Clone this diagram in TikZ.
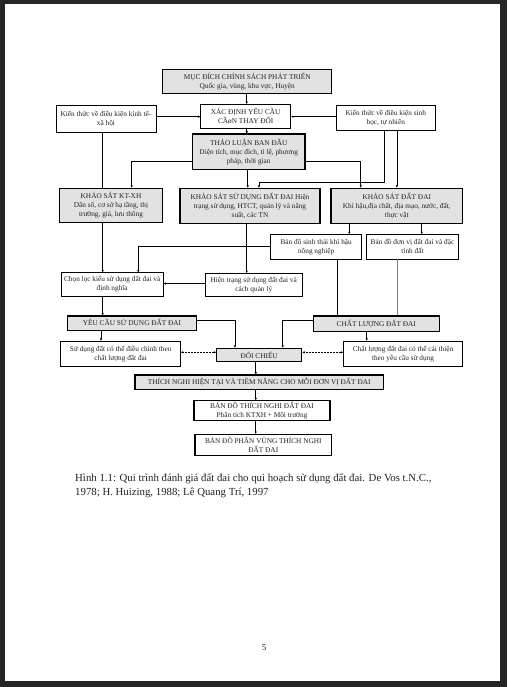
\documentclass[tikz,border=0pt]{standalone}
\usepackage{fontspec}
\setmainfont{Liberation Serif}
\usetikzlibrary{arrows.meta}
\definecolor{framegray}{HTML}{262626}
\definecolor{boxgray}{HTML}{E2E2E2}
\definecolor{inkgray}{HTML}{222222}
\begin{document}
\begin{tikzpicture}[x=1pt,y=-1pt,
  boxfont/.style={font=\fontsize{7.3}{9}\selectfont, text=inkgray},
  gbox/.style={draw=black, line width=1.3pt, fill=boxgray, align=center, inner sep=0pt, boxfont},
  wbox/.style={draw=black, line width=0.6pt, fill=white, align=center, inner sep=0pt, boxfont},
  mbox/.style={draw=black, line width=1.1pt, fill=white, align=center, inner sep=0pt, boxfont},
  arr/.style={-{Triangle[length=2.2pt,width=2pt]}, line width=0.5pt, draw=black},
  link/.style={line width=0.5pt, draw=black},
  dotarr/.style={{Triangle[length=2.2pt,width=2pt]}-{Triangle[length=2.2pt,width=2pt]}, line width=0.5pt, densely dotted},
  sz/.style 2 args={minimum width=#1pt, minimum height=#2pt}
]
\useasboundingbox (0,0) rectangle (507,687);
\fill[framegray] (0,0) rectangle (507,687);
\fill[white] (5,4) rectangle (500,681);

% boxes
\node[gbox, sz={169}{24}] (muc) at (247.2,81.3) {MỤC ĐÍCH CHÍNH SÁCH PHÁT TRIỂN\\Quốc gia, vùng, khu vực, Huyện};
\node[wbox, line width=0.8pt, sz={90}{24}] (xac) at (245.7,116.3) {XÁC ĐỊNH YÊU CẦU\\CẦøN THAY ĐỔI};
\node[wbox, sz={100}{27}] (kt) at (106,119.2) {Kiến thức về điều kiện kinh tế-\\xã hội};
\node[wbox, sz={99.7}{24.3}] (sh) at (385.8,117.9) {Kiến thức về điều kiện sinh\\học, tự nhiên};
\node[gbox, sz={112.7}{35.3}] (thao) at (248.7,151.7) {THẢO LUẬN BAN ĐẦU\\Diện tích, mục đích, tỉ lệ, phương\\pháp, thời gian};
\node[gbox, sz={103.4}{34.4}] (ksxh) at (111,205.5) {KHẢO SÁT KT-XH\\Dân số, cơ sở hạ tầng, thị\\trường, giá, lưu thông};
\node[gbox, sz={140}{35}] (kssd) at (250,205.8) {KHẢO SÁT SỬ DỤNG ĐẤT ĐAI Hiện\\trạng sử dụng, HTCT, quản lý và năng\\suất, các TN};
\node[gbox, sz={131.7}{35}] (ksdd) at (396.8,205.8) {KHẢO SÁT ĐẤT ĐAI\\Khí hậu,địa chất, địa mạo, nước, đất,\\thực vật};
\node[wbox, sz={91}{24.7}] (bdst) at (316.2,246.7) {Bản đồ sinh thái khí hậu\\nông nghiệp};
\node[wbox, sz={91.6}{24.7}] (bddv) at (412.5,246.7) {Bản đồ đơn vị đất đai và đặc\\tính đất};
\node[wbox, sz={102.3}{23.3}] (chon) at (112.2,284.3) {Chọn lọc kiểu sử dụng đất đai và\\định nghĩa};
\node[wbox, sz={97.3}{23.4}] (hien) at (253.7,285) {Hiện trạng sử dụng đất đai và\\cách quản lý};
\node[gbox, sz={129.4}{14.7}] (yeu) at (132,323.3) {YÊU CẦU SỬ DỤNG ĐẤT ĐAI};
\node[gbox, sz={126}{15.7}] (chat) at (376.3,323.8) {CHẤT LƯỢNG ĐẤT ĐAI};
\node[wbox, sz={120}{25.7}] (sud) at (120.7,353.8) {Sử dụng đất có thể điều chỉnh theo\\chất lượng đất đai};
\node[gbox, sz={85}{13.4}] (doi) at (259.2,355) {ĐỐI CHIẾU};
\node[wbox, sz={119.4}{25.7}] (clb) at (403,353.8) {Chất lượng đất đai có thể cải thiện\\theo yêu cầu sử dụng};
\node[gbox, sz={248.3}{14.3}] (thich) at (259.2,382.2) {THÍCH NGHI HIỆN TẠI VÀ TIỀM NĂNG CHO MỖI ĐƠN VỊ ĐẤT ĐAI};
\node[mbox, sz={136}{20}] (bdtn) at (262,410.7) {BẢN ĐỒ THÍCH NGHI ĐẤT ĐAI\\Phân tích KTXH + Môi trường};
\node[mbox, sz={136.7}{20.7}] (bdpv) at (263.3,444.7) {BẢN ĐỒ PHÂN VÙNG THÍCH NGHI\\ĐẤT ĐAI};

% connectors
\draw[arr] ([xshift=-0.5pt]muc.south) -- ([xshift=-0.5pt]muc.south |- xac.north);
\draw[arr] ([yshift=2.5pt]kt.east) -- ([yshift=2.5pt]kt.east -| xac.west);
\draw[arr] ([yshift=1.2pt]sh.west) -- ([yshift=1.2pt]sh.west -| xac.east);
\draw[arr] ([xshift=1pt]xac.south) -- ([xshift=1pt]xac.south |- thao.north);
\draw[arr] ([yshift=-10pt]thao.west) -| ([xshift=20.7pt]ksxh.north);
\draw[arr] ([xshift=-1pt]thao.south) -- ([xshift=-1pt]thao.south |- kssd.north);
\draw[arr] ([yshift=-10pt]thao.east) -| ([xshift=-36.1pt]ksdd.north);
\draw[arr] ([xshift=-1.5pt]sh.south) -- ++(0,52.3) -| ([xshift=9pt]kssd.north);
\draw[arr] ([xshift=11pt]sh.south) -- ([xshift=11pt]sh.south |- ksdd.north);
\draw[link] ([xshift=-3.3pt]kt.south) -- ([xshift=-3.3pt]kt.south |- ksxh.north);
\draw[arr] ([xshift=-8.3pt]ksxh.south) -- ([xshift=-8.3pt]ksxh.south |- chon.north);
\draw[arr] ([xshift=-3.3pt]kssd.south) -- ([xshift=-3.3pt]kssd.south |- hien.north);
\draw[arr] ([xshift=-47.5pt]ksdd.south) -- ([xshift=-47.5pt]ksdd.south |- bdst.north);
\draw[arr] ([xshift=24.9pt]ksdd.south) -- ([xshift=24.9pt]ksdd.south |- bddv.north);
\draw[arr] (bdst.west) -| ([xshift=26.1pt]chon.north);
\draw[arr] ([yshift=1.5pt]hien.west) -- ([yshift=1.5pt]hien.west -| chon.east);
\draw[arr] ([xshift=-9.5pt]chon.south) -- ([xshift=-9.5pt]chon.south |- yeu.north);
\draw[link] ([xshift=21.1pt]bdst.south) -- ([xshift=21.1pt]bdst.south |- chat.north);
\draw[link, draw=gray] ([xshift=-15pt]bddv.south) -- ([xshift=-15pt]bddv.south |- chat.north);
\draw[arr] ([yshift=3.3pt]yeu.east) -| ([xshift=-24.2pt]doi.north);
\draw[arr] ([yshift=3.8pt]chat.west) -| ([xshift=23.5pt]doi.north);
\draw[arr] ([xshift=-31pt]yeu.south) -- ([xshift=-31pt]yeu.south |- sud.north);
\draw[arr] ([xshift=-9.6pt]chat.south) -- ([xshift=-9.6pt]chat.south |- clb.north);
\draw[dotarr] ([yshift=2.7pt]doi.west) -- ([yshift=2.7pt]doi.west -| sud.east);
\draw[dotarr] ([yshift=2.7pt]doi.east) -- ([yshift=2.7pt]doi.east -| clb.west);
\draw[arr] ([xshift=-3.5pt]doi.south) -- ([xshift=-3.5pt]doi.south |- thich.north);
\draw[arr] ([xshift=-3.5pt]thich.south) -- ([xshift=-3.5pt]thich.south |- bdtn.north);
\draw[arr] ([xshift=-6.3pt]bdtn.south) -- ([xshift=-6.3pt]bdtn.south |- bdpv.north);

% caption and page number
\node[anchor=base west, inner sep=0pt, font=\fontsize{10.8}{13}\selectfont, text=inkgray] (cap1) at (75,481) {Hình 1.1: Qui trình đánh giá đất đai cho qui hoạch sử dụng đất đai. De Vos t.N.C.,};
\node[anchor=base west, inner sep=0pt, font=\fontsize{10.8}{13}\selectfont, text=inkgray] (cap2) at (75,495) {1978; H. Huizing, 1988; Lê Quang Trí, 1997};
\node[inner sep=0pt, font=\fontsize{9}{11}\selectfont, text=inkgray] (pg) at (264,648) {5};
\end{tikzpicture}
\end{document}
